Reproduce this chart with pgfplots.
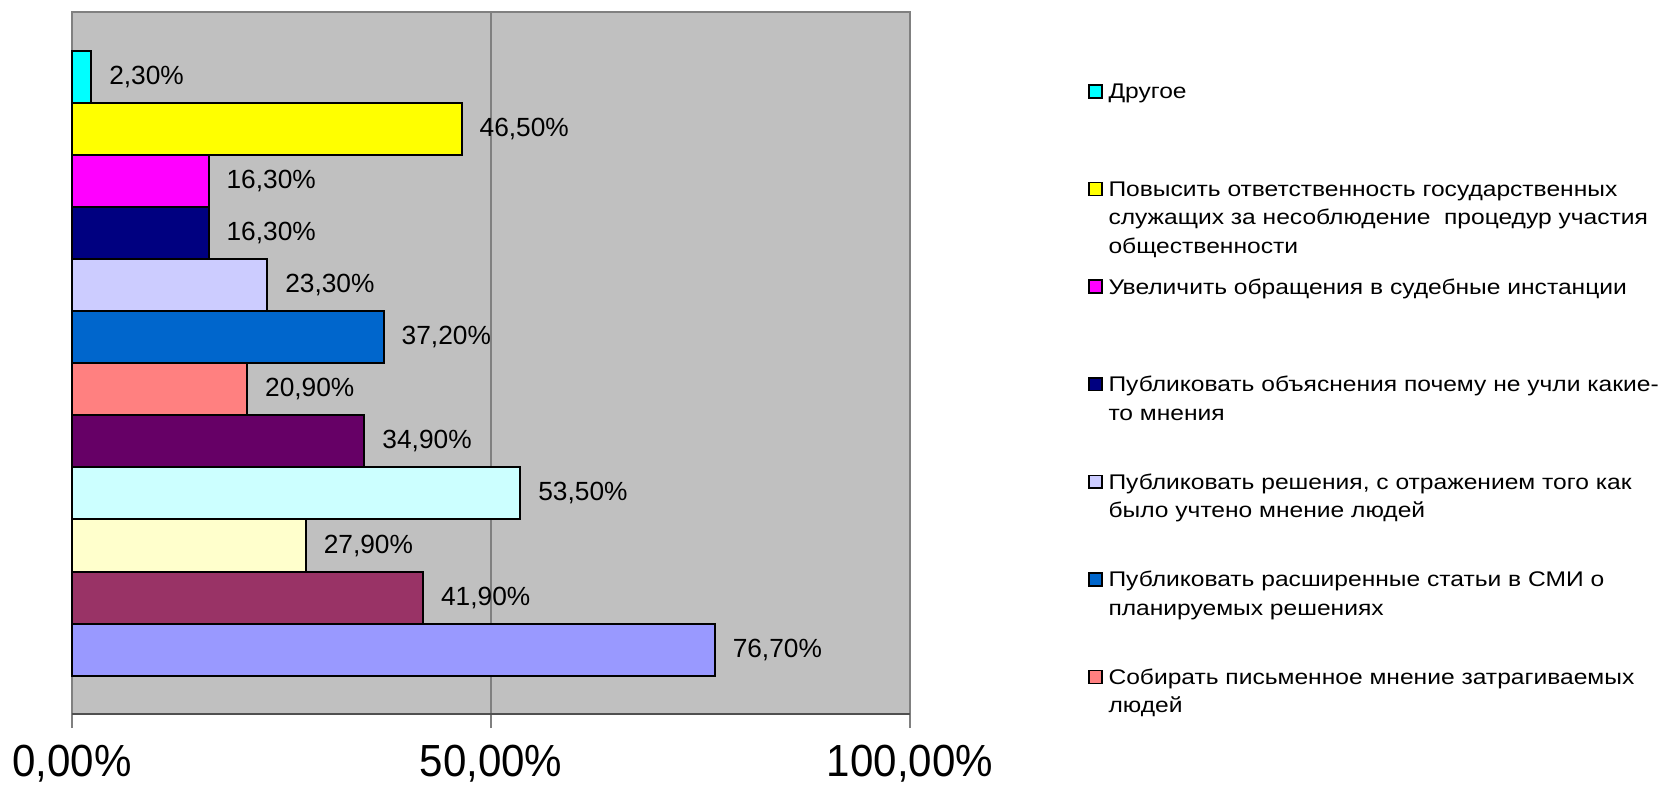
\documentclass[border=0pt]{standalone}
\usepackage{pgfplots}
\pgfplotsset{compat=1.18}
\usepackage{fontspec}
\setmainfont{Liberation Sans}
\newfontfamily\lgfont[FakeStretch=1.16]{Liberation Sans}
\newfontfamily\tkfont[FakeStretch=0.935]{Liberation Sans}
\definecolor{bgray}{HTML}{C0C0C0}
\definecolor{fgray}{HTML}{808080}
\definecolor{dgray}{HTML}{505050}
\definecolor{c1}{HTML}{00FFFF}
\definecolor{c2}{HTML}{FFFF00}
\definecolor{c3}{HTML}{FF00FF}
\definecolor{c4}{HTML}{000080}
\definecolor{c5}{HTML}{CCCCFF}
\definecolor{c6}{HTML}{0066CC}
\definecolor{c7}{HTML}{FF8080}
\definecolor{c8}{HTML}{660066}
\definecolor{c9}{HTML}{CCFFFF}
\definecolor{c10}{HTML}{FFFFCC}
\definecolor{c11}{HTML}{993366}
\definecolor{c12}{HTML}{9999FF}
\newcommand{\lgt}[1]{\parbox[t]{300pt}{\raggedright #1}}
\pgfplotsset{
  mybar/.style={xbar, bar width=1, bar shift=0pt, draw=black, line width=1pt,
    point meta=x,
    nodes near coords={\pgfmathprintnumber[fixed,fixed zerofill,precision=2,use comma,assume math mode=true]{\pgfplotspointmeta}\%},
    nodes near coords style={anchor=west, inner sep=0pt, xshift=8.5pt, font=\fontsize{13.15}{15}\selectfont, text=black},
    legend image code/.code={\draw[##1, line width=0.75pt] (0pt,0.6pt) rectangle (6.5pt,7pt);},
  },
}
\begin{document}
\begin{tikzpicture}
\path[use as bounding box] (-36pt,-36.5pt) rectangle (794pt,357pt);
\begin{axis}[
  scale only axis,
  width=419pt, height=351pt,
  xmin=0, xmax=100,
  ymin=-0.235, ymax=13.243,
  axis background/.style={fill=bgray},
  axis line style={draw=fgray, line width=0.75pt},
  xtick={0,50,100},
  xticklabels={{0,00\%},{50,00\%},{100,00\%}},
  xtick pos=bottom,
  ytick=\empty,
  tick align=outside,
  major tick length=7pt,
  tick style={draw=fgray, line width=0.6pt},
  xmajorgrids,
  major grid style={draw=fgray, line width=0.6pt},
  xticklabel style={font=\tkfont\fontsize{22.5}{26}\selectfont, inner sep=0pt, anchor=north, yshift=-8.5pt},
  clip=false,
  legend style={at={(1.2124,0.8989)}, anchor=north west, draw=none, fill=none,
    inner sep=0pt, outer sep=0pt, column sep=3pt, row sep=0pt,
    font=\lgfont\fontsize{10.6}{14.15}\selectfont,
    nodes={inner sep=0pt, text height=8pt, text depth=40.8pt},
    cells={anchor=base west}},
]
\addplot[mybar, fill=c1] coordinates {(2.3,12)};
\addlegendentry{\lgt{Другое}}
\addplot[mybar, fill=c2] coordinates {(46.5,11)};
\addlegendentry{\lgt{Повысить ответственность государственных\\служащих за несоблюдение~ процедур участия\\общественности}}
\addplot[mybar, fill=c3] coordinates {(16.3,10)};
\addlegendentry{\lgt{Увеличить обращения в судебные инстанции}}
\addplot[mybar, fill=c4] coordinates {(16.3,9)};
\addlegendentry{\lgt{Публиковать объяснения почему не учли какие-\\то мнения}}
\addplot[mybar, fill=c5] coordinates {(23.3,8)};
\addlegendentry{\lgt{Публиковать решения, с отражением того как\\было учтено мнение людей}}
\addplot[mybar, fill=c6] coordinates {(37.2,7)};
\addlegendentry{\lgt{Публиковать расширенные статьи в СМИ о\\планируемых решениях}}
\addplot[mybar, fill=c7] coordinates {(20.9,6)};
\addlegendentry{\lgt{Собирать письменное мнение затрагиваемых\\людей}}
\addplot[mybar, fill=c8, forget plot] coordinates {(34.9,5)};
\addplot[mybar, fill=c9, forget plot] coordinates {(53.5,4)};
\addplot[mybar, fill=c10, forget plot] coordinates {(27.9,3)};
\addplot[mybar, fill=c11, forget plot] coordinates {(41.9,2)};
\addplot[mybar, fill=c12, forget plot] coordinates {(76.7,1)};
\draw[dgray, line width=1pt] (rel axis cs:0,0) -- (rel axis cs:1,0);
\end{axis}
\end{tikzpicture}
\end{document}
